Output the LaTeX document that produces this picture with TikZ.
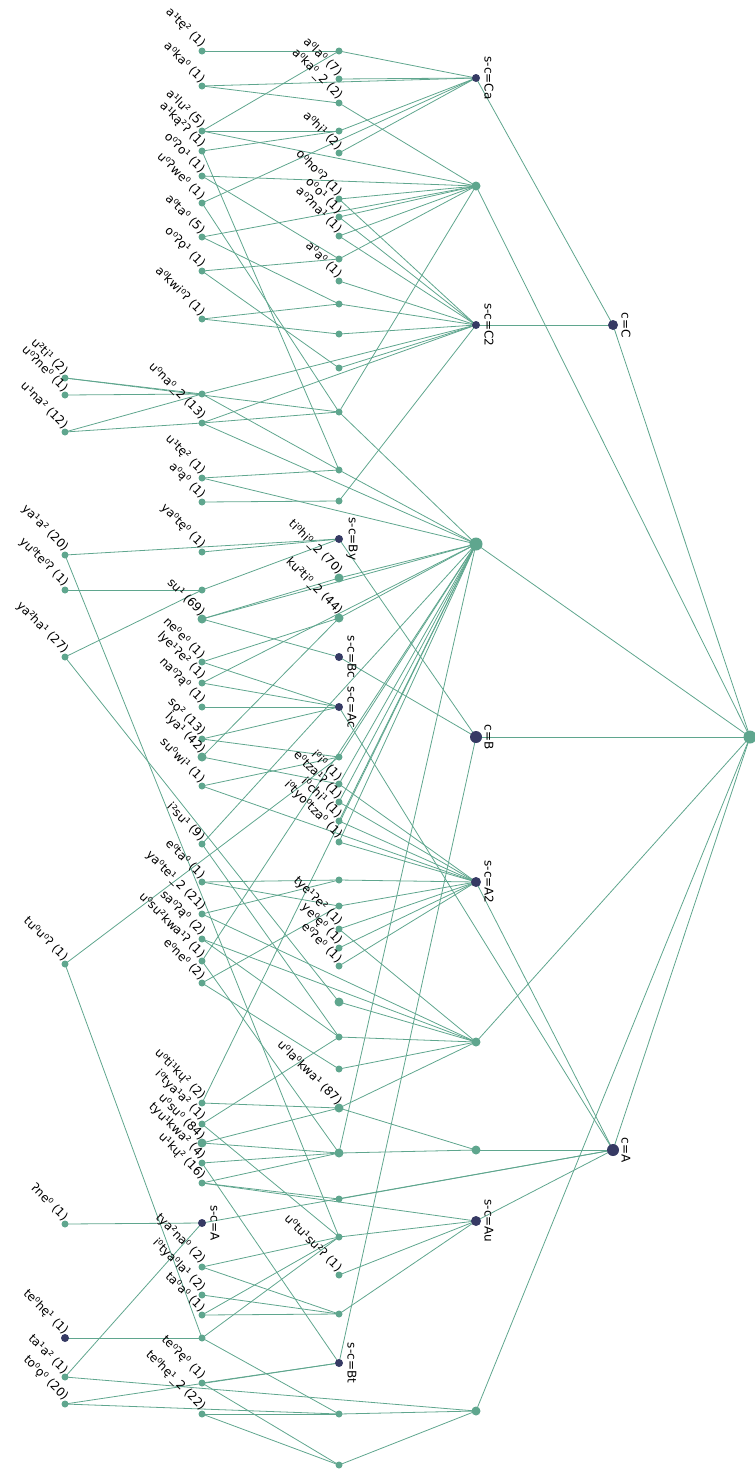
\documentclass[tikz,border=0pt]{standalone}
\usepackage{fontspec}
\newfontfamily\dv{DejaVu Sans}
\pgfdeclarelayer{bg}
\pgfsetlayers{bg,main}
\definecolor{ngreen}{HTML}{5FA68E}
\definecolor{ndark}{HTML}{363A64}
\tikzset{
 gs/.style={circle,fill=ngreen,inner sep=0pt,minimum size=7pt},
 gm/.style={circle,fill=ngreen,inner sep=0pt,minimum size=9pt},
 gl/.style={circle,fill=ngreen,inner sep=0pt,minimum size=13pt},
 ds/.style={circle,fill=ndark,inner sep=0pt,minimum size=8pt},
 dm/.style={circle,fill=ndark,inner sep=0pt,minimum size=10pt},
 dl/.style={circle,fill=ndark,inner sep=0pt,minimum size=12pt},
 lbl/.style={rotate=-45,anchor=south east,inner sep=0pt,font=\dv\fontsize{12}{14}\selectfont},
 vlbl/.style={rotate=-90,inner sep=0pt,font=\dv\fontsize{12}{14}\selectfont},
 edge/.style={draw=ngreen,line width=0.8pt}
}
\newcommand{\N}[4]{\node[#4] (#1) at (#2,#3) {};}
\newcommand{\Lb}[2]{\node[lbl] at ([xshift=-3pt,yshift=1pt]#1.center) {#2};}
\newcommand{\Vl}[2]{\node[vlbl] at ([xshift=13pt]#1.center) {#2};}
\newcommand{\E}[2]{\draw[edge] (#1.center) -- (#2.center);}
\begin{document}
\begin{tikzpicture}[x=1pt,y=-1pt]
\useasboundingbox (0,0) rectangle (755,1470);
% column 0
\N{a378}{65}{378}{gs}\Lb{a378}{u²ti¹ (2)}
\N{a395}{65}{395}{gs}\Lb{a395}{u⁰ʔne⁰ (1)}
\N{a432}{65}{432}{gs}\Lb{a432}{u¹na² (12)}
\N{a555}{65}{555}{gs}\Lb{a555}{ya¹a² (20)}
\N{a590}{65}{590}{gs}\Lb{a590}{yu⁰te⁰ʔ (1)}
\N{a657}{65}{657}{gs}\Lb{a657}{ya²ha¹ (27)}
\N{a964}{65}{964}{gs}\Lb{a964}{tu⁰u⁰ʔ (1)}
\N{a1224}{65}{1224}{gs}\Lb{a1224}{ʔne⁰ (1)}
\N{a1338}{65}{1338}{ds}\Lb{a1338}{te⁰hę¹ (1)}
\N{a1377}{65}{1377}{gs}\Lb{a1377}{ta¹a² (1)}
\N{a1404}{65}{1404}{gs}\Lb{a1404}{to⁰ǫ⁰ (20)}
% column 1
\N{b51}{202}{51}{gs}\Lb{b51}{a¹tę² (1)}
\N{b86}{202}{86}{gs}\Lb{b86}{a⁰ka⁰ (1)}
\N{b131}{202}{131}{gs}\Lb{b131}{a¹lu² (5)}
\N{b151}{202}{151}{gs}\Lb{b151}{a¹ką²ʔ (1)}
\N{b176}{202}{176}{gs}\Lb{b176}{o⁰ʔo¹ (1)}
\N{b203}{202}{203}{gs}\Lb{b203}{u⁰ʔwe⁰ (1)}
\N{b237}{202}{237}{gs}\Lb{b237}{a⁰ta⁰ (5)}
\N{b271}{202}{271}{gs}\Lb{b271}{o⁰ʔǫ¹ (1)}
\N{b319}{202}{319}{gs}\Lb{b319}{a⁰kwi⁰ʔ (1)}
\N{b394}{202}{394}{gs}
\N{b423}{202}{423}{gs}\Lb{b423}{u⁰na⁰\_2 (13)}
\N{b478}{202}{478}{gs}\Lb{b478}{u¹tę² (1)}
\N{b502}{202}{502}{gs}\Lb{b502}{a⁰ą⁰ (1)}
\N{b552}{202}{552}{gs}\Lb{b552}{ya⁰tę⁰ (1)}
\N{b590}{202}{590}{gs}
\N{b619}{202}{619}{gm}\Lb{b619}{su¹ (69)}
\N{b662}{202}{662}{gs}\Lb{b662}{ne⁰e⁰ (1)}
\N{b683}{202}{683}{gs}\Lb{b683}{lye¹ʔe² (1)}
\N{b707}{202}{707}{gs}\Lb{b707}{na⁰ʔą⁰ (1)}
\N{b739}{202}{739}{gs}\Lb{b739}{sǫ² (13)}
\N{b757}{202}{757}{gm}\Lb{b757}{lya¹ (42)}
\N{b786}{202}{786}{gs}\Lb{b786}{su⁰wi¹ (1)}
\N{b844}{202}{844}{gs}\Lb{b844}{i²su¹ (9)}
\N{b882}{202}{882}{gs}\Lb{b882}{e⁰ta⁰ (1)}
\N{b914}{202}{914}{gs}\Lb{b914}{ya⁰te¹\_2 (21)}
\N{b939}{202}{939}{gs}\Lb{b939}{sa⁰ʔą⁰ (2)}
\N{b961}{202}{961}{gs}\Lb{b961}{u⁰su²kwa¹ʔ (1)}
\N{b983}{202}{983}{gs}\Lb{b983}{e⁰ne⁰ (2)}
\N{b1103}{202}{1103}{gs}\Lb{b1103}{u⁰ti¹kų² (2)}
\N{b1124}{202}{1124}{gs}\Lb{b1124}{i⁰tya¹a² (1)}
\N{b1143}{202}{1143}{gm}\Lb{b1143}{u⁰su⁰ (84)}
\N{b1163}{202}{1163}{gs}\Lb{b1163}{tyu¹kwa² (4)}
\N{b1183}{202}{1183}{gs}\Lb{b1183}{u¹kų² (16)}
\N{b1223}{202}{1223}{ds}\Vl{b1223}{s-c=A}
\N{b1267}{202}{1267}{gs}\Lb{b1267}{tya²na⁰ (2)}
\N{b1295}{202}{1295}{gs}\Lb{b1295}{i⁰tya⁰la¹ (2)}
\N{b1315}{202}{1315}{gs}\Lb{b1315}{ta⁰a⁰ (1)}
\N{b1338}{202}{1338}{gs}
\N{b1383}{202}{1383}{gs}\Lb{b1383}{te⁰ʔę⁰ (1)}
\N{b1414}{202}{1414}{gs}\Lb{b1414}{te⁰hę¹\_2 (22)}
% column 2
\N{c51}{339}{51}{gs}
\N{c79}{339}{79}{gs}\Lb{c79}{a⁰la⁰ (7)}
\N{c103}{339}{103}{gs}\Lb{c103}{a⁰ka⁰\_2 (2)}
\N{c131}{339}{131}{gs}
\N{c153}{339}{153}{gs}\Lb{c153}{a⁰hi¹ (2)}
\N{c199}{339}{199}{gs}\Lb{c199}{o⁰ho⁰ʔ (1)}
\N{c217}{339}{217}{gs}\Lb{c217}{o⁰o¹ (1)}
\N{c236}{339}{236}{gs}\Lb{c236}{a⁰ʔna¹ (1)}
\N{c259}{339}{259}{gs}
\N{c281}{339}{281}{gs}\Lb{c281}{a⁰a⁰ (1)}
\N{c304}{339}{304}{gs}
\N{c334}{339}{334}{gs}
\N{c368}{339}{368}{gs}
\N{c412}{339}{412}{gs}
\N{c470}{339}{470}{gs}
\N{c501}{339}{501}{gs}
\N{c539}{339}{539}{ds}\Vl{c539}{s-c=By}
\N{c578}{339}{578}{gm}\Lb{c578}{ti⁰hi⁰\_2 (70)}
\N{c618}{339}{618}{gm}\Lb{c618}{ku²ti⁰\_2 (44)}
\N{c657}{339}{657}{ds}\Vl{c657}{s-c=Bc}
\N{c707}{339}{707}{ds}\Vl{c707}{s-c=Ac}
\N{c757}{339}{757}{gs}
\N{c784}{339}{784}{gs}\Lb{c784}{i⁰i⁰ (1)}
\N{c802}{339}{802}{gs}\Lb{c802}{e⁰tza¹ʔ (1)}
\N{c821}{339}{821}{gs}\Lb{c821}{i⁰chi¹ (1)}
\N{c842}{339}{842}{gs}\Lb{c842}{i⁰tyo⁰tza⁰ (1)}
\N{c880}{339}{880}{gs}
\N{c906}{339}{906}{gs}
\N{c929}{339}{929}{gs}\Lb{c929}{tye¹ʔe² (1)}
\N{c948}{339}{948}{gs}\Lb{c948}{ye⁰ę⁰ (1)}
\N{c966}{339}{966}{gs}\Lb{c966}{e⁰ʔe⁰ (1)}
\N{c1002}{339}{1002}{gm}
\N{c1037}{339}{1037}{gs}
\N{c1069}{339}{1069}{gs}
\N{c1108}{339}{1108}{gm}\Lb{c1108}{u⁰la⁰kwa¹ (87)}
\N{c1153}{339}{1153}{gm}
\N{c1199}{339}{1199}{gs}
\N{c1237}{339}{1237}{gs}
\N{c1275}{339}{1275}{gs}\Lb{c1275}{u⁰tu¹su²ʔ (1)}
\N{c1314}{339}{1314}{gs}
\N{c1363}{339}{1363}{ds}\Vl{c1363}{s-c=Bt}
\N{c1414}{339}{1414}{gs}
\N{c1465}{339}{1465}{gs}
% column 3
\N{d78}{476}{78}{ds}\Vl{d78}{s-c=Ca}
\N{d186}{476}{186}{gm}
\N{d325}{476}{325}{ds}\Vl{d325}{s-c=C2}
\N{d544}{476}{544}{gl}
\N{d737}{476}{737}{dl}\Vl{d737}{c=B}
\N{d882}{476}{882}{dm}\Vl{d882}{s-c=A2}
\N{d1042}{476}{1042}{gm}
\N{d1150}{476}{1150}{gm}
\N{d1221}{476}{1221}{dm}\Vl{d1221}{s-c=Au}
\N{d1411}{476}{1411}{gm}
% column 4
\N{e325}{613}{325}{dm}\Vl{e325}{c=C}
\N{e1150}{613}{1150}{dl}\Vl{e1150}{c=A}
% column 5
\N{f737}{750}{737}{gl}
\begin{pgfonlayer}{bg}
\E{b51}{c51}\E{c51}{d78}\E{b86}{d78}\E{b86}{c103}\E{c79}{d78}
\E{b131}{c51}\E{b131}{c131}\E{b131}{d186}\E{b151}{c131}\E{b151}{c470}
\E{c131}{d78}\E{c153}{d78}\E{b203}{d78}\E{b176}{d186}\E{b176}{c259}
\E{b203}{c412}\E{b237}{d186}\E{b237}{c304}\E{b271}{c259}\E{b271}{c368}
\E{b319}{c304}\E{b319}{c334}\E{c103}{d186}\E{c199}{d186}\E{c217}{d186}
\E{c236}{d186}\E{c259}{d186}\E{c281}{d325}\E{c304}{d325}\E{c334}{d325}
\E{c368}{d325}\E{c412}{d186}\E{c501}{d325}\E{c199}{d325}\E{c217}{d325}\E{c236}{d325}
\E{d78}{e325}\E{d325}{e325}\E{e325}{f737}\E{d186}{f737}\E{d544}{f737}
\E{d737}{f737}\E{d1042}{f737}\E{e1150}{f737}\E{d1411}{f737}
\E{d882}{e1150}\E{d1150}{e1150}\E{d1221}{e1150}\E{c707}{e1150}\E{b1223}{e1150}
\E{c539}{d737}\E{c657}{d737}\E{c1363}{d737}
% middle
\E{a378}{b394}\E{a395}{b394}\E{a432}{b394}\E{a432}{b423}\E{a378}{c412}
\E{b394}{d325}\E{b394}{c470}\E{b423}{c412}\E{b423}{d544}\E{b423}{d325}
\E{b478}{c470}\E{b478}{d544}\E{b502}{c501}\E{c470}{d544}\E{c412}{d544}
\E{a555}{c539}\E{b552}{c539}\E{a555}{c1237}\E{a590}{b590}\E{a657}{b590}
\E{b590}{c539}\E{a657}{c1002}\E{c578}{d544}\E{c618}{d544}
\E{b619}{c578}\E{b619}{c657}\E{b619}{d544}\E{b662}{c618}\E{b662}{c707}
\E{b683}{d544}\E{b683}{c707}\E{b707}{c707}\E{b739}{c707}\E{b739}{c757}
\E{b757}{c618}\E{b757}{c784}\E{b786}{c757}\E{b786}{d882}\E{b844}{d544}
\E{b844}{c1037}\E{c757}{d544}\E{c784}{d544}\E{c802}{d544}\E{c821}{d544}\E{c842}{d544}
\E{c784}{d882}\E{c802}{d882}\E{c821}{d882}\E{c842}{d882}
\E{a964}{c757}\E{a964}{b1338}
\E{b882}{c880}\E{b882}{c906}\E{b914}{c880}\E{b914}{d1042}\E{b939}{d1042}\E{b939}{c1037}
\E{b961}{d544}\E{b961}{c1153}\E{b983}{c906}\E{b983}{c1069}
\E{c880}{d882}\E{c906}{d882}\E{c929}{d882}\E{c929}{d1042}\E{c948}{d882}\E{c966}{d882}
\E{c1002}{d1042}\E{c1037}{d1042}\E{c1069}{d1042}\E{c1108}{d1150}\E{c1108}{d1042}
\E{c1153}{d1150}\E{c1153}{d544}\E{c1199}{e1150}\E{c1237}{d1221}\E{c1275}{d1221}
\E{c1314}{d1221}\E{c1414}{d1411}\E{c1465}{d1411}
\E{b1103}{c1108}\E{b1103}{d544}\E{b1124}{c1037}\E{b1124}{c1237}
\E{b1143}{c1108}\E{b1143}{c1153}\E{b1163}{c1363}\E{b1163}{c1153}
\E{b1183}{c1153}\E{b1183}{d1221}\E{b1183}{c1199}
\E{a1224}{b1223}\E{a1338}{b1338}\E{a1377}{b1223}\E{a1377}{d1411}
\E{a1404}{c1363}\E{a1404}{c1414}
\E{b1267}{c1237}\E{b1267}{c1314}\E{b1295}{c1314}\E{b1315}{c1314}\E{b1315}{c1237}
\E{b1338}{c1237}\E{b1338}{c1414}\E{b1383}{c1363}\E{b1383}{c1465}
\E{b1414}{c1414}\E{b1414}{c1465}
\end{pgfonlayer}
\end{tikzpicture}
\end{document}
